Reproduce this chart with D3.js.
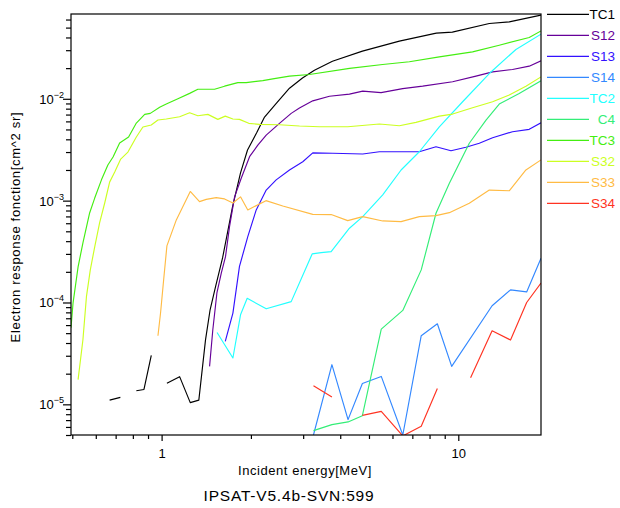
<!DOCTYPE html>
<html><head><meta charset="utf-8">
<script src="https://cdn.jsdelivr.net/npm/d3@7"></script>
<style>body{margin:0;background:#fff;} text{font-family:"Liberation Sans",Arial,sans-serif;}</style>
</head><body><svg id="c" width="620" height="508"></svg>
<script>
// ---- data (energy in MeV, response in cm^2 sr); null = gap ----
const seriesNames = ["TC1","S12","S13","S14","TC2","C4","TC3","S32","S33","S34"];
const seriesColors = ["#000000","#660099","#3311ff","#3388ff","#22ffff","#33ee77","#44ee11","#ccff22","#ffbb44","#ff3322"];

const E_TC1 = [0.668,0.726,0.77,0.822,0.872,0.923,0.98,1.042,1.15,1.249,1.335,1.406,1.457,1.52,1.605,1.734,1.845,1.948,2.089,2.223,2.439,2.698,2.984,3.274,3.765,4.752,6.33,8.43,9.55,12.72,14.85,19];
const R_TC1 = [1.10e-5,1.17e-5,null,1.36e-5,1.40e-5,3.02e-5,null,1.61e-5,1.87e-5,1.04e-5,1.10e-5,4.30e-5,8.48e-5,1.43e-4,2.74e-4,8.67e-4,1.87e-3,3.14e-3,4.61e-3,6.62e-3,9.08e-3,1.27e-2,1.60e-2,1.91e-2,2.34e-2,2.94e-2,3.68e-2,4.41e-2,4.51e-2,5.48e-2,5.69e-2,6.62e-2];

const E_S12 = [1.451,1.488,1.536,1.589,1.642,1.694,1.762,1.855,1.979,2.11,2.252,2.496,2.734,2.915,3.232,3.679,4.296,4.763,5.492,6.494,7.585,9.568,11.47,13.05,15.23,17.34,19];
const R_S12 = [2.36e-5,5.40e-5,1.24e-4,1.94e-4,2.82e-4,5.56e-4,1.09e-3,1.66e-3,2.70e-3,3.51e-3,4.40e-3,5.74e-3,7.19e-3,8.11e-3,9.55e-3,1.06e-2,1.11e-2,1.19e-2,1.15e-2,1.26e-2,1.33e-2,1.47e-2,1.67e-2,1.84e-2,1.94e-2,2.09e-2,2.36e-2];

const E_S13 = [1.639,1.739,1.83,1.952,2.084,2.252,2.433,2.698,2.991,3.232,3.773,4.763,5.42,7.39,8.41,9.45,10.61,11.77,13.05,15.23,17.34,19];
const R_S13 = [4.15e-5,7.87e-5,2.26e-4,4.44e-4,8.11e-4,1.27e-3,1.60e-3,2.00e-3,2.41e-3,2.94e-3,2.92e-3,2.87e-3,3.02e-3,3.02e-3,3.38e-3,3.09e-3,3.34e-3,3.66e-3,4.15e-3,4.75e-3,5.01e-3,5.82e-3];

const E_S14 = [3.25,3.75,4.25,4.75,5.5,6.5,7.5,8.5,9.5,13,15,17,19];
const R_S14 = [5.0e-6,2.45e-5,7.08e-6,1.60e-5,1.88e-5,5.0e-6,4.72e-5,6.18e-5,2.36e-5,9.29e-5,1.33e-4,1.27e-4,2.72e-4];

const E_TC2 = [1.538,1.739,1.845,1.943,2.252,2.734,3.217,3.45,3.728,4.296,4.763,5.562,6.415,7.39,8.63,10.34,12.72,15.64,19];
const R_TC2 = [5.08e-5,2.85e-5,7.57e-5,1.10e-4,8.67e-5,1.02e-4,3.00e-4,3.09e-4,3.16e-4,5.36e-4,6.97e-4,1.14e-3,2.00e-3,3.02e-3,5.31e-3,9.35e-3,1.77e-2,3.05e-2,4.31e-2];

const E_C4 = [3.25,3.75,4.25,4.75,5.5,6.5,7.5,8.41,9.33,10.89,12.4,13.74,16.04,19];
const R_C4 = [5.52e-6,6.32e-6,6.72e-6,7.74e-6,5.48e-5,8.36e-5,2.09e-4,7.52e-4,1.48e-3,3.66e-3,6.18e-3,8.87e-3,1.13e-2,1.50e-2];

const E_TC3 = [0.495,0.503,0.523,0.543,0.572,0.595,0.627,0.659,0.686,0.722,0.774,0.822,0.877,0.916,0.985,1.037,1.135,1.243,1.325,1.508,1.63,1.807,1.928,2.193,2.37,2.698,3.15,4.3,5.56,6.84,8.63,11.17,13.74,17.34,19];
const R_TC3 = [5.65e-5,9.93e-5,2.24e-4,3.85e-4,7.57e-4,1.06e-3,1.60e-3,2.24e-3,2.68e-3,3.68e-3,4.21e-3,5.78e-3,7.03e-3,7.19e-3,8.24e-3,8.88e-3,1.0e-2,1.13e-2,1.24e-2,1.24e-2,1.33e-2,1.44e-2,1.44e-2,1.51e-2,1.57e-2,1.67e-2,1.73e-2,1.99e-2,2.17e-2,2.31e-2,2.58e-2,2.89e-2,3.36e-2,4.00e-2,4.64e-2];

const E_S32 = [0.523,0.543,0.558,0.575,0.595,0.618,0.643,0.668,0.695,0.728,0.77,0.822,0.865,0.923,0.972,1.037,1.15,1.243,1.325,1.432,1.547,1.639,1.739,1.83,1.967,2.138,2.496,2.915,3.404,4.24,5.42,6.33,7.2,8.63,9.57,11.17,13.05,14.85,16.9,19];
const R_S32 = [1.75e-5,4.31e-5,1.14e-4,2.09e-4,3.52e-4,6.04e-4,9.48e-4,1.52e-3,1.91e-3,2.56e-3,3.00e-3,4.21e-3,5.28e-3,5.53e-3,6.19e-3,6.33e-3,6.67e-3,7.29e-3,6.81e-3,7.03e-3,6.28e-3,6.76e-3,6.33e-3,6.28e-3,5.74e-3,5.61e-3,5.56e-3,5.40e-3,5.31e-3,5.31e-3,5.65e-3,5.44e-3,5.87e-3,6.76e-3,7.08e-3,8.16e-3,9.35e-3,1.09e-2,1.33e-2,1.64e-2];

const E_S33 = [0.972,0.992,1.016,1.042,1.121,1.249,1.342,1.414,1.528,1.63,1.739,1.845,1.952,2.248,2.561,3.232,3.728,4.24,4.763,5.562,6.415,7.39,8.41,9.327,10.89,12.72,14.85,16.9,19];
const R_S33 = [4.72e-5,7.93e-5,1.67e-4,3.60e-4,6.47e-4,1.23e-3,9.78e-4,1.03e-3,1.07e-3,1.04e-3,9.48e-4,1.09e-3,8.11e-4,1.00e-3,8.87e-4,7.33e-4,7.30e-4,6.37e-4,6.97e-4,6.32e-4,6.22e-4,6.97e-4,7.13e-4,7.62e-4,9.44e-4,1.27e-3,1.25e-3,2.00e-3,2.51e-3];

const E_S34 = [3.25,3.75,4.25,4.75,5.5,6.5,7.5,8.5,9.5,11,13,15,17,19];
const R_S34 = [1.52e-5,1.18e-5,null,7.80e-6,8.53e-6,4.9e-6,6.08e-6,1.43e-5,null,1.82e-5,5.28e-5,4.28e-5,1.00e-4,1.55e-4];

const xMajorTicks = [1, 10];
const xMinorTicks = [0.5,0.6,0.7,0.8,0.9,2,3,4,5,6,7,8,9];
const yMajorTicks = [1e-5,1e-4,1e-3,1e-2];
const yMajorExps = ["\u22125","\u22124","\u22123","\u22122"];
const yMinorTicks = [5e-6,6e-6,7e-6,8e-6,9e-6,2e-5,3e-5,4e-5,5e-5,6e-5,7e-5,8e-5,9e-5,2e-4,3e-4,4e-4,5e-4,6e-4,7e-4,8e-4,9e-4,2e-3,3e-3,4e-3,5e-3,6e-3,7e-3,8e-3,9e-3,2e-2,3e-2,4e-2,5e-2,6e-2];

const seriesE = [E_TC1,E_S12,E_S13,E_S14,E_TC2,E_C4,E_TC3,E_S32,E_S33,E_S34];
const seriesR = [R_TC1,R_S12,R_S13,R_S14,R_TC2,R_C4,R_TC3,R_S32,R_S33,R_S34];

// ---- drawing ----
const svg = d3.select("#c");
const L = 71, Rr = 541, T = 14, B = 435;
const x = d3.scaleLog().domain([0.495, 19]).range([L, Rr]);
const y = d3.scaleLog().domain([5e-6, 0.068]).range([B, T]);

svg.append("defs").append("clipPath").attr("id","clip")
  .append("rect").attr("x",L).attr("y",T).attr("width",Rr-L).attr("height",B-T);

const line = d3.line().defined(d => d[1] != null).x(d => x(d[0])).y(d => y(d[1]));
const g = svg.append("g").attr("clip-path","url(#clip)");
seriesNames.forEach((n,i) => {
  const pts = seriesE[i].map((e,j) => [e, seriesR[i][j]]);
  g.append("path").attr("d", line(pts)).attr("fill","none")
    .attr("stroke", seriesColors[i]).attr("stroke-width",1.15).attr("stroke-linejoin","round");
});

// frame
svg.append("rect").attr("x",L).attr("y",T).attr("width",Rr-L).attr("height",B-T)
  .attr("fill","none").attr("stroke","#000").attr("stroke-width",1.2);

// y axis
const yAx1 = svg.append("g").attr("transform",`translate(${L},0)`)
  .call(d3.axisLeft(y).tickValues(yMajorTicks).tickSize(8).tickSizeOuter(0).tickFormat(""));
const yAx2 = svg.append("g").attr("transform",`translate(${L},0)`)
  .call(d3.axisLeft(y).tickValues(yMinorTicks).tickSize(5).tickSizeOuter(0).tickFormat(""));
[yAx1,yAx2].forEach(a => { a.select(".domain").remove(); a.selectAll("line").attr("stroke","#000").attr("stroke-width",1.2); });
yMajorTicks.forEach((v,i) => {
  const t = svg.append("text").attr("x", 64).attr("y", y(v)+5).attr("text-anchor","end")
    .attr("font-size",13).attr("fill","#000");
  t.append("tspan").text("10");
  t.append("tspan").attr("dy",-6).attr("font-size",9).text(yMajorExps[i]);
});

// x axis
const xAx1 = svg.append("g").attr("transform",`translate(0,${B})`)
  .call(d3.axisBottom(x).tickValues(xMajorTicks).tickSize(6).tickSizeOuter(0).tickFormat(d3.format("d")));
const xAx2 = svg.append("g").attr("transform",`translate(0,${B})`)
  .call(d3.axisBottom(x).tickValues(xMinorTicks).tickSize(4).tickSizeOuter(0).tickFormat(""));
[xAx1,xAx2].forEach(a => { a.select(".domain").remove(); a.selectAll("line").attr("stroke","#000").attr("stroke-width",1.2); });
xAx1.selectAll("text").attr("font-size",13).attr("fill","#000").attr("dy","1.05em")
  .style("font-family",'"Liberation Sans",Arial,sans-serif');

// titles
svg.append("text").attr("x",305).attr("y",475).attr("text-anchor","middle").attr("font-size",13)
  .attr("letter-spacing","0.55px").text("Incident energy[MeV]");
svg.append("text").attr("x",289).attr("y",501).attr("text-anchor","middle").attr("font-size",15.5)
  .attr("letter-spacing","0.8px").text("IPSAT-V5.4b-SVN:599");
svg.append("text").attr("transform","translate(20,227) rotate(-90)").attr("text-anchor","middle")
  .attr("font-size",13).attr("letter-spacing","0.7px").text("Electron response fonction[cm^2 sr]");

// legend
const lg = svg.append("g");
seriesNames.forEach((n,i) => {
  const yy = 14.3 + 21*i;
  lg.append("line").attr("x1",547).attr("x2",589).attr("y1",yy).attr("y2",yy)
    .attr("stroke",seriesColors[i]).attr("stroke-width",1.2);
  lg.append("text").attr("x",615).attr("y",yy+5).attr("text-anchor","end")
    .attr("font-size",13.5).attr("fill",seriesColors[i]).text(n);
});
</script></body></html>
